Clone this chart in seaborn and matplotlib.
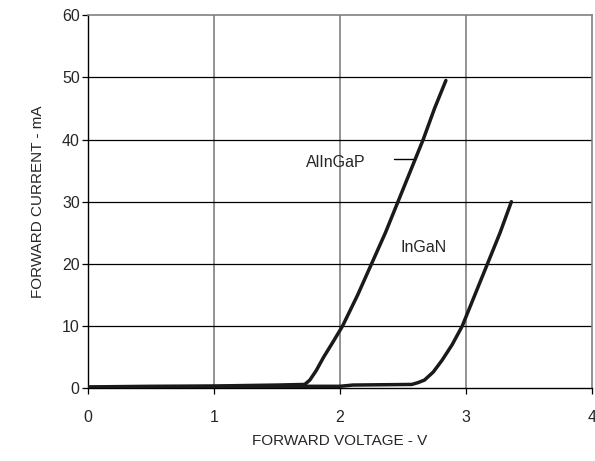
import matplotlib
matplotlib.use("Agg")
import matplotlib.pyplot as plt
import seaborn as sns
import pandas as pd

# Forward current vs forward voltage for two LED chip types
alingap_v = [0, 0.5, 1.0, 1.5, 1.72, 1.76, 1.81, 1.87, 1.94, 2.02, 2.14, 2.25, 2.36, 2.46, 2.56, 2.66, 2.75, 2.84]
alingap_i = [0.2, 0.3, 0.35, 0.5, 0.6, 1.3, 2.8, 5, 7.3, 10, 15, 20, 25, 30, 35, 40, 45, 49.5]

ingan_v = [0, 0.5, 1.0, 1.5, 2.0, 2.1, 2.57, 2.62, 2.67, 2.74, 2.81, 2.89, 2.97, 3.07, 3.17, 3.27, 3.36]
ingan_i = [0.1, 0.2, 0.25, 0.3, 0.3, 0.5, 0.6, 0.9, 1.3, 2.6, 4.5, 7, 10, 15, 20, 25, 30]

x_ticks = [0, 1, 2, 3, 4]
y_ticks = [0, 10, 20, 30, 40, 50, 60]

df = pd.concat([
    pd.DataFrame({"V": alingap_v, "I": alingap_i, "chip": "AlInGaP"}),
    pd.DataFrame({"V": ingan_v, "I": ingan_i, "chip": "InGaN"}),
])

sns.set_style("white")
plt.rcParams["font.family"] = ["Liberation Sans Narrow", "Liberation Sans", "DejaVu Sans"]

fig = plt.figure(figsize=(5.95, 4.61), dpi=100)
ax = fig.add_axes([0.148, 0.158, 0.847, 0.809])

# grid: grey verticals, black horizontals
for xv in x_ticks[1:-1]:
    ax.axvline(xv, color="#808080", lw=1.2, zorder=1)
for yv in y_ticks[1:-1]:
    ax.axhline(yv, color="black", lw=0.9, zorder=1)

sns.lineplot(data=df, x="V", y="I", hue="chip", palette=["#1a1a1a", "#1a1a1a"],
             linewidth=2.5, legend=False, sort=False, estimator=None, ax=ax, zorder=3)

ax.set_xlim(0, 4)
ax.set_ylim(0, 60)
ax.set_xticks(x_ticks)
ax.set_yticks(y_ticks)
ax.tick_params(axis="both", direction="out", length=4, width=0.9, color="black",
               labelsize=11.5, pad=12)
ax.tick_params(axis="y", pad=2)
ax.tick_params(axis="x", bottom=True)
ax.tick_params(axis="y", left=True)

for side in ["left", "bottom"]:
    ax.spines[side].set_color("black")
    ax.spines[side].set_linewidth(1.0)
for side in ["top", "right"]:
    ax.spines[side].set_color("#808080")
    ax.spines[side].set_linewidth(1.2)

ax.set_xlabel("FORWARD VOLTAGE - V", fontsize=11, labelpad=6)
ax.set_ylabel("FORWARD CURRENT - mA", fontsize=11, labelpad=12)

ax.text(2.2, 36.3, "AlInGaP", fontsize=11.5, ha="right", va="center", zorder=4)
ax.plot([2.43, 2.58], [36.8, 36.8], color="black", lw=1.0, zorder=4)
ax.text(2.66, 22.6, "InGaN", fontsize=11.5, ha="center", va="center", zorder=4)

fig.savefig("out.png", dpi=100)
